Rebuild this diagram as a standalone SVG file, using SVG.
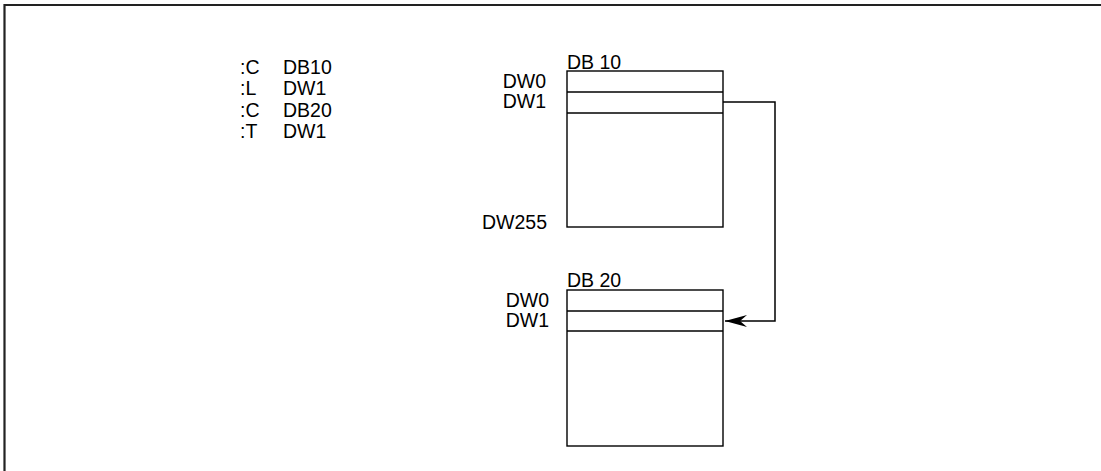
<svg xmlns="http://www.w3.org/2000/svg" width="1101" height="471" viewBox="0 0 1101 471">
<style>
  text { font-family: "Liberation Sans", Arial, sans-serif; font-size: 19.5px; fill: #000; }
  .box { fill: none; stroke: #000; stroke-width: 1.4; }
  .conn { fill: none; stroke: #000; stroke-width: 1.5; }
  .frame { fill: none; stroke: #222; stroke-width: 2.2; }
</style>
<defs>
  <marker id="arrow" markerUnits="userSpaceOnUse" markerWidth="24" markerHeight="14" refX="22" refY="7" orient="auto" viewBox="0 0 24 14">
    <path d="M22,7 L0,1 L7,7 L0,13 Z" fill="#000"/>
  </marker>
</defs>
<rect width="1101" height="471" fill="#fff"/>
<path class="frame" d="M4.5,471 V5 H1101"/>
<g id="code">
  <text x="240" y="74">:C</text><text x="283" y="74">DB10</text>
  <text x="240" y="95">:L</text><text x="283" y="95">DW1</text>
  <text x="240" y="117">:C</text><text x="283" y="117">DB20</text>
  <text x="240" y="138">:T</text><text x="283" y="138">DW1</text>
</g>
<g id="db10">
  <text x="567" y="69">DB 10</text>
  <rect class="box" x="567" y="71" width="156" height="156"/>
  <line class="box" x1="567" y1="92" x2="723" y2="92"/>
  <line class="box" x1="567" y1="113" x2="723" y2="113"/>
  <text x="546" y="88" text-anchor="end">DW0</text>
  <text x="546" y="108" text-anchor="end">DW1</text>
  <text x="547" y="229" text-anchor="end">DW255</text>
</g>
<g id="db20">
  <text x="567" y="287">DB 20</text>
  <rect class="box" x="567" y="290" width="156" height="156"/>
  <line class="box" x1="567" y1="311" x2="723" y2="311"/>
  <line class="box" x1="567" y1="331" x2="723" y2="331"/>
  <text x="549" y="307" text-anchor="end">DW0</text>
  <text x="549" y="327" text-anchor="end">DW1</text>
</g>
<g id="connectors">
  <path class="conn" d="M723,102 H775 V321 H725" marker-end="url(#arrow)"/>
</g>
</svg>
